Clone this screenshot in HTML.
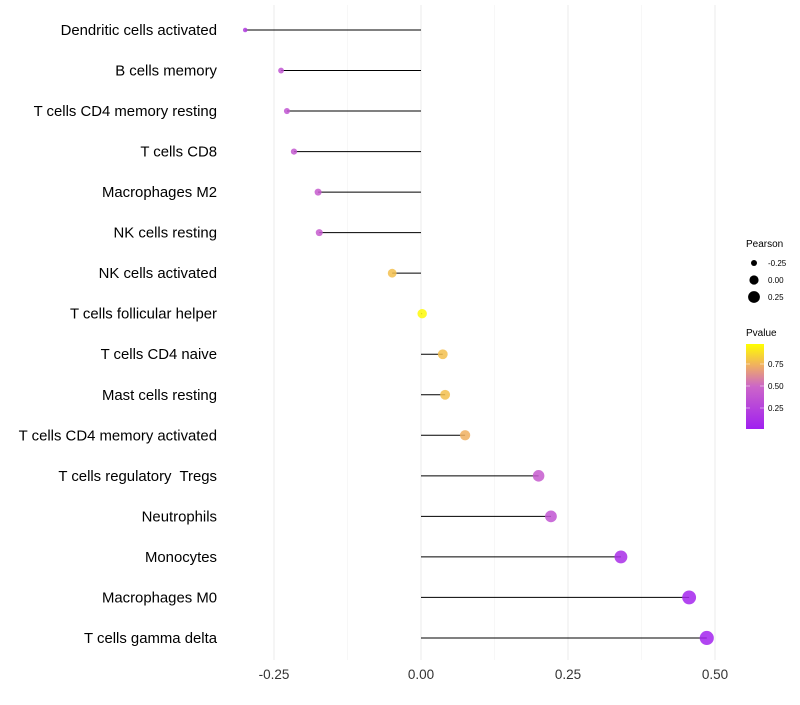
<!DOCTYPE html>
<html><head><meta charset="utf-8"><style>
body{margin:0;background:#fff;font-family:"Liberation Sans",sans-serif}
text{white-space:pre}
</style></head><body>
<svg id="chart" width="800" height="700" xmlns="http://www.w3.org/2000/svg">
<defs><linearGradient id="pg" x1="0" y1="1" x2="0" y2="0">
<stop offset="0" stop-color="#a020f0"/><stop offset="0.5" stop-color="#cc66c8"/><stop offset="0.75" stop-color="#f0b060"/><stop offset="1" stop-color="#ffff00"/></linearGradient></defs>
<g id="grid"></g><g id="marks"></g><g id="labels"></g>
<g font-size="9" fill="#000">
<text x="746" y="247" font-size="10">Pearson</text>
<circle cx="754" cy="263" r="3"/><text x="768" y="266" font-size="8">-0.25</text>
<circle cx="754" cy="280" r="4.6"/><text x="768" y="283" font-size="8">0.00</text>
<circle cx="754" cy="297" r="5.9"/><text x="768" y="300" font-size="8">0.25</text>
<text x="746" y="336" font-size="10">Pvalue</text>
<rect x="746" y="344" width="18" height="85" fill="url(#pg)"/>
<g stroke="#fff" stroke-width="0.8" opacity="0.6"><line x1="746" x2="750" y1="364" y2="364"/><line x1="760" x2="764" y1="364" y2="364"/><line x1="746" x2="750" y1="386" y2="386"/><line x1="760" x2="764" y1="386" y2="386"/><line x1="746" x2="750" y1="408" y2="408"/><line x1="760" x2="764" y1="408" y2="408"/></g>
<text x="768" y="367" font-size="8">0.75</text><text x="768" y="389" font-size="8">0.50</text><text x="768" y="411" font-size="8">0.25</text>
</g>
</svg>
<script>
const categories=["Dendritic cells activated","B cells memory","T cells CD4 memory resting","T cells CD8","Macrophages M2","NK cells resting","NK cells activated","T cells follicular helper","T cells CD4 naive","Mast cells resting","T cells CD4 memory activated","T cells regulatory  Tregs","Neutrophils","Monocytes","Macrophages M0","T cells gamma delta"];
const pearson=[-0.299,-0.238,-0.228,-0.216,-0.175,-0.173,-0.049,0.002,0.037,0.041,0.075,0.2,0.221,0.34,0.456,0.486];
const pvalues=[0.2,0.38,0.38,0.4,0.42,0.42,0.8,0.98,0.8,0.8,0.75,0.42,0.38,0.1,0.04,0.03];
const xTicks=[-0.25,0,0.25,0.5];
const xTickLabels=["-0.25","0.00","0.25","0.50"];
const NS="http://www.w3.org/2000/svg";
const xS=v=>421+v*588;
const yS=i=>30+i*40.53;
const rS=v=>Math.sqrt(Math.max(3,5+(v+0.3)*57));
function col(p){const st=[[0,[160,32,240]],[0.5,[204,102,200]],[0.75,[240,176,96]],[1,[255,255,0]]];
 p=Math.max(0,Math.min(1,p));for(let k=1;k<st.length;k++){if(p<=st[k][0]){const a=st[k-1],b=st[k],t=(p-a[0])/(b[0]-a[0]);return 'rgb('+a[1].map((c,j)=>Math.round(c+(b[1][j]-c)*t)).join(',')+')';}}return 'rgb(255,255,0)';}
function mk(tag,at,parent){const e=document.createElementNS(NS,tag);for(const k in at)e.setAttribute(k,at[k]);document.getElementById(parent).appendChild(e);return e;}
const minor=[-0.125,0.125,0.375];
minor.forEach(v=>{const l=mk('line',{x1:xS(v),x2:xS(v),y1:5,y2:660,stroke:'#f2f2f2','stroke-width':0.6},'grid');

});
xTicks.forEach((v,i)=>{const l=mk('line',{x1:xS(v),x2:xS(v),y1:5,y2:660,stroke:'#ebebeb','stroke-width':1},'grid');


const t=mk('text',{x:xS(v),y:679,'text-anchor':'middle','font-size':13.5,fill:'#333'},'labels');t.textContent=xTickLabels[i];

});
categories.forEach((c,i)=>{
 const l=mk('line',{x1:xS(0),x2:xS(pearson[i]),y1:yS(i),y2:yS(i),stroke:'#000','stroke-width':1},'marks');
 
 
 const p=mk('circle',{cx:xS(pearson[i]),cy:yS(i),r:rS(pearson[i]),fill:col(pvalues[i]),opacity:0.85},'marks');
 
 
 const t=mk('text',{x:217,y:yS(i)+5,'text-anchor':'end','font-size':14.9,fill:'#000'},'labels');t.textContent=c;
 
 
});
</script>
</body></html>
